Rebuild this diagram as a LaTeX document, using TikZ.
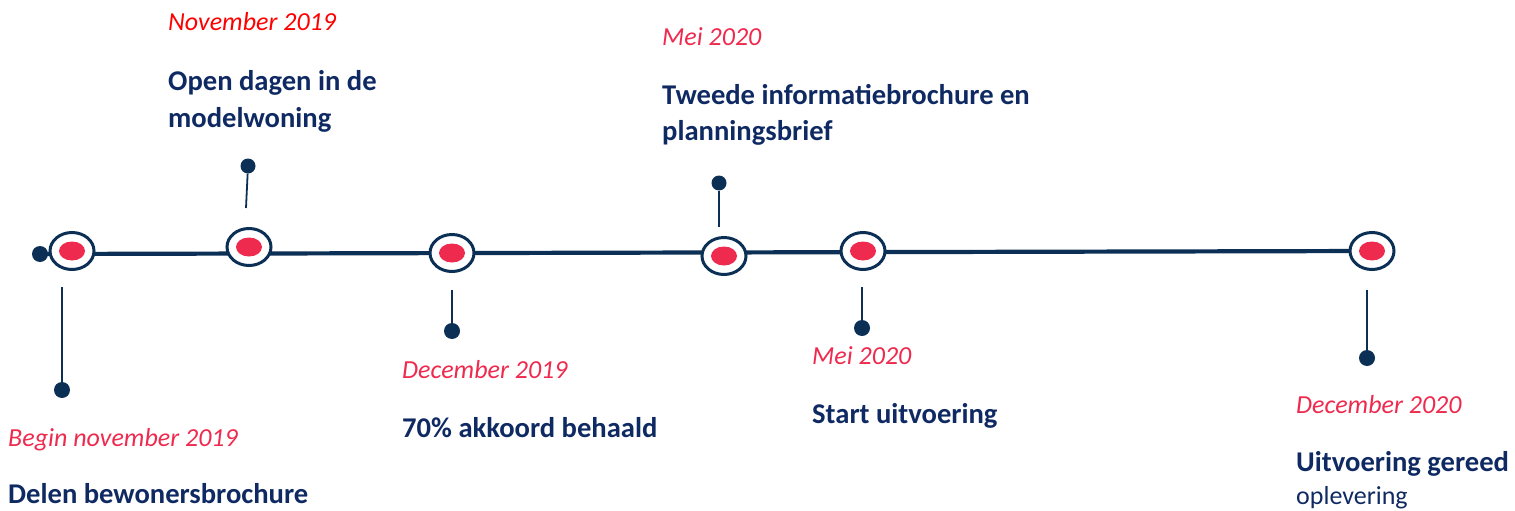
\documentclass[tikz,border=0pt]{standalone}
\usepackage{fontspec}
\setmainfont{Carlito}
\usetikzlibrary{shapes.geometric,backgrounds}
\definecolor{navyline}{HTML}{0B2F55}
\definecolor{navytext}{HTML}{0F2A63}
\definecolor{datered}{HTML}{EE2A4E}
\definecolor{purered}{HTML}{FF0000}
\tikzset{
  marker/.style={ellipse, draw=navyline, line width=3pt, fill=white,
    minimum width=44pt, minimum height=37pt, inner sep=0pt},
  enddot/.style={circle, fill=navyline, minimum size=16pt, inner sep=0pt},
  stemline/.style={draw=navyline, line width=1.8pt},
  axis/.style={draw=navyline, line width=4.2pt},
  datelbl/.style={anchor=base west, inner sep=0pt, text=datered,
    font=\fontsize{26}{31}\selectfont\itshape},
  titlelbl/.style={anchor=base west, inner sep=0pt, text=navytext,
    font=\fontsize{28.6}{37}\selectfont\bfseries},
  notelbl/.style={anchor=base west, inner sep=0pt, text=navytext,
    font=\fontsize{26}{31}\selectfont},
}
\newcommand{\redcore}[1]{\fill[datered] (#1.center) ellipse (13pt and 9.5pt);}
\begin{document}
\begin{tikzpicture}[x=1pt, y=-1pt]
  \useasboundingbox (0,0) rectangle (1515,511);

  % timeline markers
  \node[enddot] (d0) at (40,254) {};
  \node[marker] (m1) at (72,251) {};
  \node[marker] (m2) at (249,247) {};
  \node[marker] (m3) at (452,253) {};
  \node[marker] (m4) at (724,256) {};
  \node[marker] (m5) at (863,251) {};
  \node[marker] (m6) at (1372,251) {};

  % main axis, behind the markers
  \begin{scope}[on background layer]
    \draw[axis] (d0.center) -- (m6.center);
  \end{scope}

  \redcore{m1}\redcore{m2}\redcore{m3}\redcore{m4}\redcore{m5}\redcore{m6}

  % stems with end dots
  \node[enddot] (p1) at (62,390) {};
  \coordinate (s1) at (62,287);
  \draw[stemline] (s1) -- (p1);

  \node[enddot, minimum size=15pt] (p2) at (248,166) {};
  \coordinate (s2) at (246,208);
  \draw[stemline] (s2) -- (p2);

  \node[enddot] (p3) at (452,331) {};
  \coordinate (s3) at (452,290);
  \draw[stemline] (s3) -- (p3);

  \node[enddot, minimum size=15pt] (p4) at (719,183) {};
  \coordinate (s4) at (719,227);
  \draw[stemline] (s4) -- (p4);

  \node[enddot] (p5) at (862,328) {};
  \coordinate (s5) at (862,287);
  \draw[stemline] (s5) -- (p5);

  \node[enddot] (p6) at (1367,358) {};
  \coordinate (s6) at (1367,290);
  \draw[stemline] (s6) -- (p6);

  % labels
  \node[datelbl] (t1d) at (8,446) {Begin november 2019};
  \node[titlelbl] (t1) at (8,503) {Delen bewonersbrochure};

  \node[datelbl, text=purered] (t2d) at (168,31) {November 2019};
  \node[titlelbl] (t2) at (168,90) {Open dagen in de};
  \node[titlelbl] (t2b) at (168,127) {modelwoning};

  \node[datelbl] (t3d) at (402,378) {December 2019};
  \node[titlelbl] (t3) at (402,437) {70\% akkoord behaald};

  \node[datelbl] (t4d) at (662,46) {Mei 2020};
  \node[titlelbl] (t4) at (662,104) {Tweede informatiebrochure en};
  \node[titlelbl] (t4b) at (662,140) {planningsbrief};

  \node[datelbl] (t5d) at (812,364) {Mei 2020};
  \node[titlelbl] (t5) at (812,423) {Start uitvoering};

  \node[datelbl] (t6d) at (1296,413) {December 2020};
  \node[titlelbl] (t6) at (1296,471) {Uitvoering gereed};
  \node[notelbl] (t6n) at (1296,504) {oplevering};
\end{tikzpicture}
\end{document}
